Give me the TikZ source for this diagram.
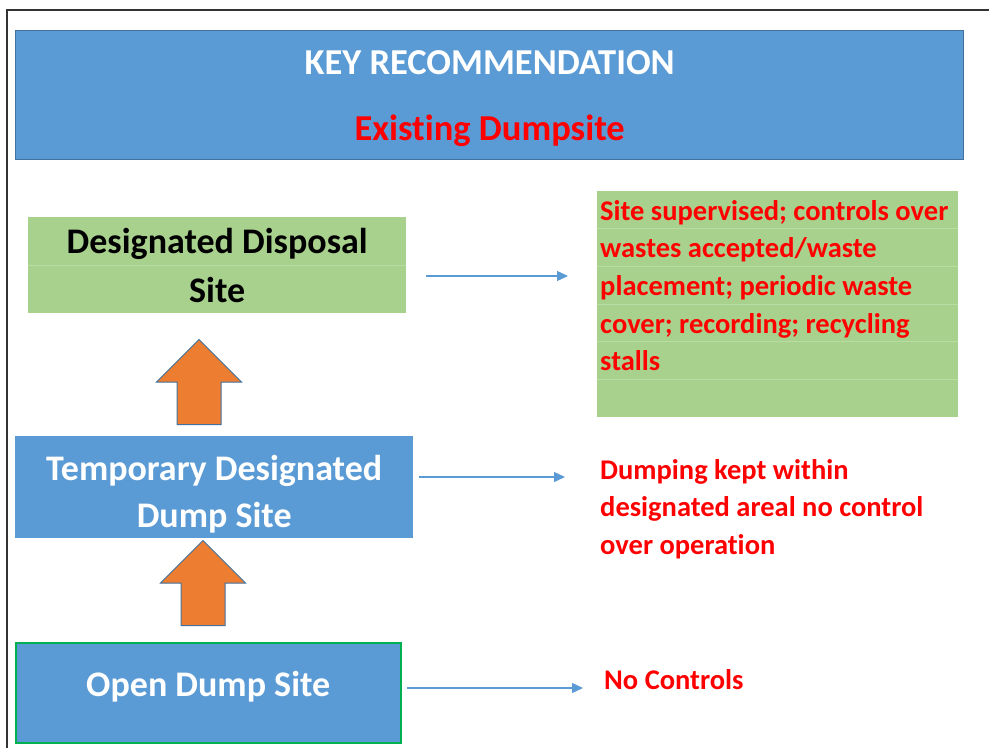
\documentclass[tikz,border=0pt]{standalone}
\usepackage{fontspec}
\setmainfont{Carlito}[Ligatures=CommonOff]
\usetikzlibrary{shapes.arrows,arrows.meta,positioning,calc}
\definecolor{boxblue}{HTML}{5B9BD5}
\definecolor{boxedge}{HTML}{41719C}
\definecolor{boxgreen}{HTML}{A9D18E}
\definecolor{rowline}{HTML}{B9DCA3}
\definecolor{uporange}{HTML}{ED7D31}
\definecolor{odsedge}{HTML}{00B050}
\definecolor{notered}{HTML}{FF0000}
\tikzset{
  % Stage box: placed by its top left corner
  sbox/.style={rectangle, inner sep=0pt, align=center, anchor=north west,
               font=\bfseries\frenchspacing\fontsize{36}{49}\selectfont},
  sbox-blue/.style={sbox, fill=boxblue, text=white},
  sbox-green/.style={sbox, fill=boxgreen, text=black},
  % Caption set on top of a stage box
  caption/.style={inner sep=0pt, align=center, text=white,
                  font=\bfseries\frenchspacing\fontsize{36}{47}\selectfont},
  % Red note on the right of each stage
  note/.style={inner sep=0pt, align=left, text=notered,
               font=\bfseries\frenchspacing\fontsize{28.5}{37.6}\selectfont},
  % Faint table rule inside the green boxes
  rowrule/.style={draw=rowline, line width=0.8pt},
  % Arrows
  flowarr/.style={-{Triangle[length=11pt,width=10pt]}, draw=boxblue, line width=1.3pt},
  uparrow/.style={single arrow, shape border rotate=90, fill=uporange, draw=boxedge,
                  line width=1pt, inner sep=21.5pt, single arrow head extend=20.5pt,
                  minimum height=85pt, anchor=tail}
}
\begin{document}
\begin{tikzpicture}[x=1pt, y=-1pt]
\useasboundingbox (0,0) rectangle (989,748);

% ============== Page frame ==============
\draw[line width=2pt, draw=black!80] (7,748) -- (7,10) -- (989,10);

% ============== TOP: heading banner ==============
\node[sbox-blue, draw=boxedge, line width=1.3pt, minimum width=948pt, minimum height=129pt]
  (hdr) at (15,30) {};
\node[caption, font=\bfseries\fontsize{36.5}{66}\selectfont] (hdrtxt) at ($(hdr.center)+(0,3)$)
  {KEY RECOMMENDATION\\\textcolor{notered}{Existing Dumpsite}};

% ============== LEFT: stages, bottom to top ==============
\node[sbox-green, minimum width=378pt, minimum height=96pt] (dds) at (28,217)
  {Designated Disposal\\Site};
\draw[rowrule] (dds.west) -- (dds.east);

\node[sbox-blue, minimum width=398pt, minimum height=102pt] (tds) at (15,436) {};
\node[caption] (tdstxt) at ($(tds.center)+(0,7)$) {Temporary Designated\\Dump Site};

\node[sbox-blue, draw=odsedge, line width=1.5pt, minimum width=385pt, minimum height=100pt]
  (ods) at (15,642) {};
\node[caption] (odstxt) at ($(ods.center)+(0,-6)$) {Open Dump Site};

% Upgrade arrows between the stages
\node[uparrow] (up1) at (199,425) {};
\node[uparrow] (up2) at (203,626) {};

% ============== RIGHT: notes ==============
\node[note, fill=boxgreen, anchor=north west, minimum width=361pt, minimum height=226pt]
  (note1box) at (597,191) {};
\foreach \k in {1,...,5}
  \draw[rowrule] ($(note1box.north west)+(0,37.67*\k)$) -- ($(note1box.north east)+(0,37.67*\k)$);
\node[note, anchor=west] (note1) at ($(note1box.west)+(3,0)$)
  {Site supervised; controls over\\wastes accepted/waste\\placement; periodic waste\\cover; recording; recycling\\stalls\\\mbox{}};

\node[note, anchor=west] (note2) at (600,509)
  {Dumping kept within\\designated areal no control\\over operation};

\node[note, anchor=west] (note3) at (604,680) {No Controls};

% ============== Stage -> note arrows ==============
\coordinate (a1) at (0,276);
\coordinate (a2) at (0,477);
\coordinate (a3) at (0,688);
\draw[flowarr, shorten <=20pt, shorten >=29pt] (dds.east |- a1) -- (note1box.west |- a1);
\draw[flowarr, shorten <=6pt, shorten >=35pt] (tds.east |- a2) -- (note2.west |- a2);
\draw[flowarr, shorten <=5pt, shorten >=21pt] (ods.east |- a3) -- (note3.west |- a3);

\end{tikzpicture}
\end{document}
